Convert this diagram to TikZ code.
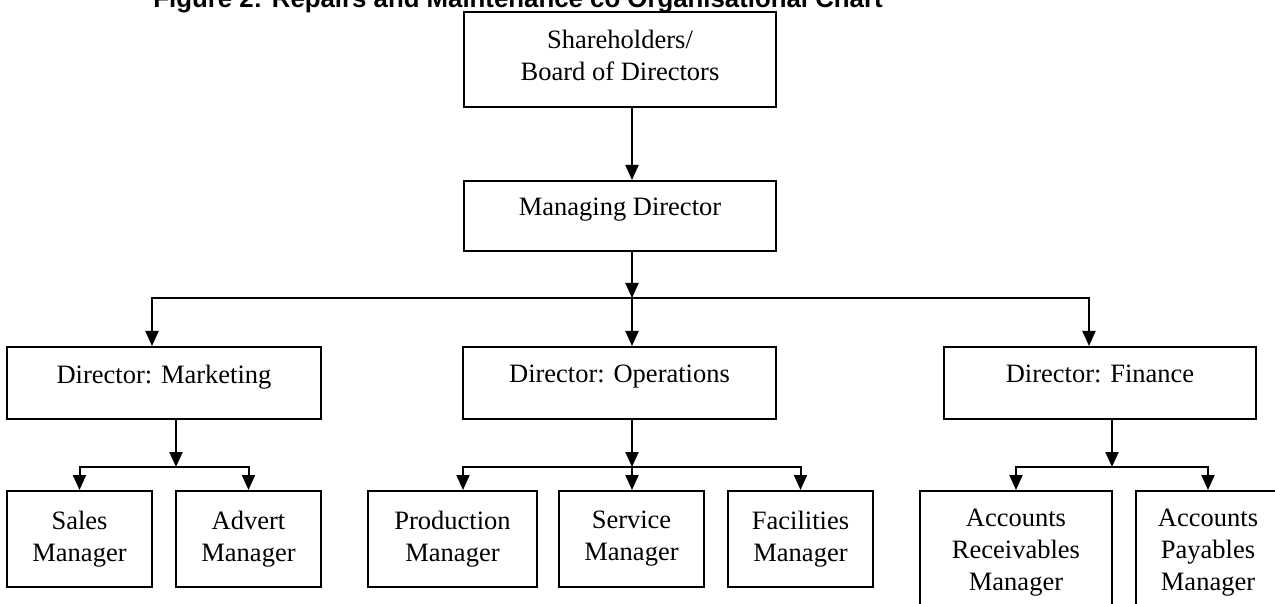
\documentclass[tikz,border=0pt]{standalone}
\usepackage{fontspec}
\setmainfont{Liberation Serif}
\newfontfamily\headfont{Liberation Sans}
\usetikzlibrary{arrows.meta}

\tikzset{
  box/.style={draw, line width=1pt, align=center, inner sep=0pt,
    font=\fontsize{13.25}{16}\selectfont},
  director/.style={box, minimum width=156pt, minimum height=36pt, text depth=9pt},
  manager/.style={box, minimum width=72.5pt, minimum height=48pt},
  arr/.style={line width=1pt, -{Triangle[length=7.5pt,width=6.5pt]}}
}

\begin{document}
\begin{tikzpicture}[x=0.5pt, y=-0.5pt]
  \clip (0,0) rectangle (1275,604);
  \node[anchor=base west, inner sep=0pt, font=\headfont\bfseries\fontsize{12.9}{15}\selectfont] (T) at (153,8)
    {Figure 2: Repairs and Maintenance co Organisational Chart};

  \node[box, minimum width=156pt, minimum height=47.5pt, text depth=4pt] (SH) at (620,59.5) {Shareholders/\\Board of Directors};
  \node[box, minimum width=156pt, minimum height=35pt, text depth=9pt] (MD) at (620,216) {Managing Director};

  \node[director, minimum width=157pt] (DMk) at (164,383)   {Director: Marketing};
  \node[director, minimum width=156.5pt] (DOp) at (619.5,383) {Director: Operations};
  \node[director] (DFi) at (1100,383) {Director: Finance};

  \node[manager] (SM)  at (79.5,539)  {Sales\\Manager};
  \node[manager] (AM)  at (248.5,539) {Advert\\Manager};
  \node[manager, minimum width=84.5pt] (PM) at (452.5,539) {Production\\Manager};
  \node[manager] (SvM) at (631.5,539) {Service\\Manager};
  \node[manager] (FM)  at (800.5,539) {Facilities\\Manager};
  \node[manager, minimum width=96pt, minimum height=62pt] (ARM) at (1016,553) {Accounts\\Receivables\\Manager};
  \node[manager, minimum width=72pt, minimum height=62pt] (APM) at (1208,553) {Accounts\\Payables\\Manager};

  % junctions
  \coordinate (J0) at (632,298);
  \coordinate (B1) at (152,298);
  \coordinate (B3) at (1089,298);
  \coordinate (J1) at (176,467);
  \coordinate (J2) at (632,467);
  \coordinate (J3) at (1112,467);
  \coordinate (P1) at (463,467);

  \draw[arr] (SH.south -| J0) -- (MD.north -| J0);
  \draw[arr] (MD.south -| J0) -- (J0);
  \draw[arr] (J0) -| (DMk.north -| B1);
  \draw[arr] (J0) -- (DOp.north -| J0);
  \draw[arr] (J0) -| (DFi.north -| B3);

  \draw[arr] (DMk.south -| J1) -- (J1);
  \draw[arr] (J1) -| (SM.north);
  \draw[arr] (J1) -| (AM.north);

  \draw[arr] (DOp.south -| J2) -- (J2);
  \draw[arr] (J2) -| (PM.north -| P1);
  \draw[arr] (J2) -- (SvM.north -| J2);
  \draw[arr] (J2) -| (FM.north);

  \draw[arr] (DFi.south -| J3) -- (J3);
  \draw[arr] (J3) -| (ARM.north);
  \draw[arr] (J3) -| (APM.north);
\end{tikzpicture}
\end{document}
